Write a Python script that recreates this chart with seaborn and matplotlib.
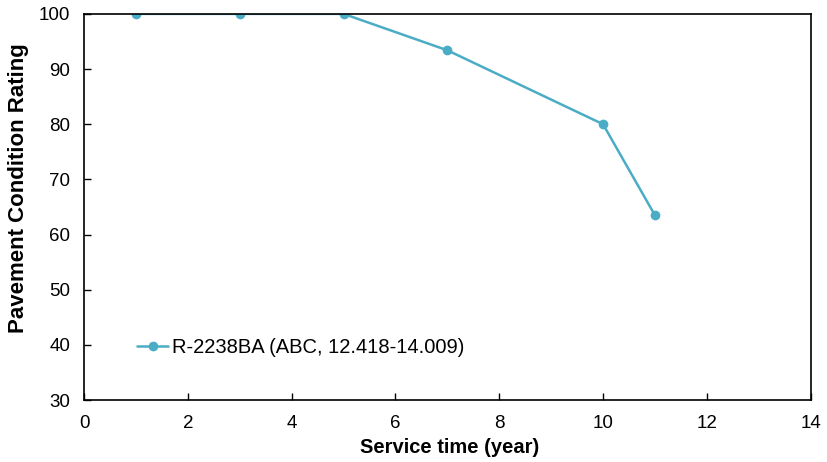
import numpy as np
import pandas as pd
import seaborn as sns
import matplotlib.pyplot as plt

# Chart data
service_years = [1, 3, 5, 7, 10, 11]
pcr_values = [100, 100, 100, 93.4, 80.0, 63.5]
series_name = "R-2238BA (ABC, 12.418-14.009)"

df = pd.DataFrame({"Service time (year)": service_years,
                   "Pavement Condition Rating": pcr_values,
                   "section": series_name})

sns.set_style("ticks")
plt.rcParams['font.family'] = ['Liberation Sans', 'DejaVu Sans']
plt.rcParams['text.color'] = 'black'
plt.rcParams['axes.labelcolor'] = 'black'

fig = plt.figure(figsize=(8.28, 4.62), dpi=100)
ax = fig.add_axes([0.1015, 0.134, 0.8775, 0.836])

# Line with markers
sns.lineplot(data=df, x="Service time (year)", y="Pavement Condition Rating",
             hue="section", palette=["#4BACC6"], marker="o", markersize=7,
             markeredgewidth=0, linewidth=1.8, ax=ax)

ax.set_xlim(0, 14)
ax.set_ylim(30, 100)
ax.set_xticks(np.arange(0, 15, 2))
ax.set_yticks(np.arange(30, 101, 10))
ax.tick_params(direction="in", labelsize=13.5, length=5, width=1, colors="black")
ax.tick_params(axis="x", pad=11)
ax.tick_params(axis="y", pad=10)
for s in ax.spines.values():
    s.set_color("black")
    s.set_linewidth(1.2)

ax.set_xlabel("Service time (year)", fontsize=14.5, fontweight="bold")
ax.set_ylabel("Pavement Condition Rating", fontsize=16, fontweight="bold")
ax.xaxis.set_label_coords(0.503, -0.098)
ax.yaxis.set_label_coords(-0.076, 0.55)

# Legend without frame
ax.legend(loc="center left", bbox_to_anchor=(0.073, 0.137), frameon=False,
          fontsize=14.5, handlelength=1.55, handletextpad=0.2,
          borderpad=0, borderaxespad=0)

fig.savefig("out.png", dpi=100)
